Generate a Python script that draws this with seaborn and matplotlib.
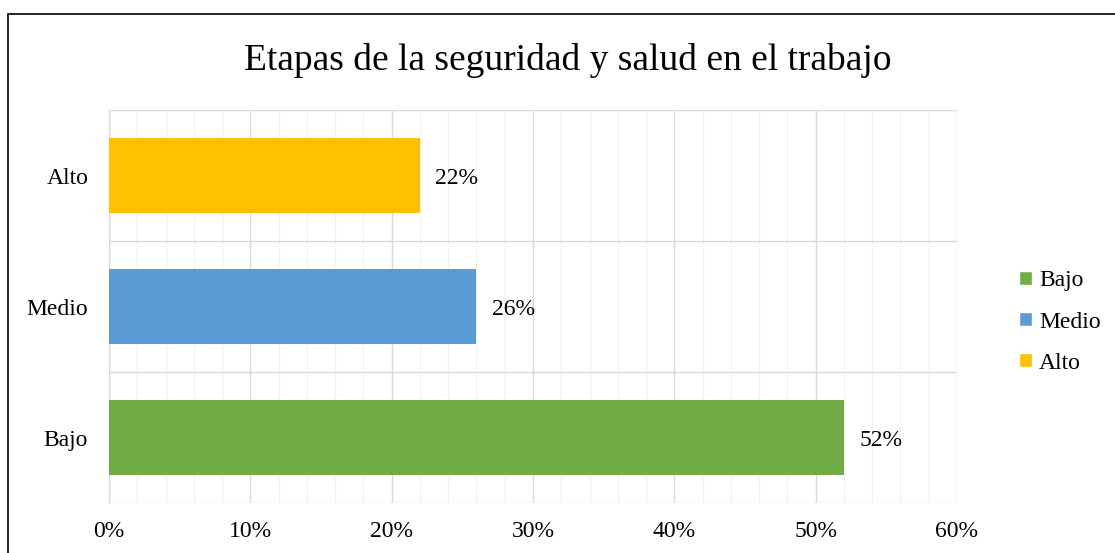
import pandas as pd
import seaborn as sns
import matplotlib.pyplot as plt
from matplotlib.ticker import MultipleLocator, PercentFormatter
from matplotlib.patches import Rectangle, Patch

# chart data
categories = ["Alto", "Medio", "Bajo"]
values = [22, 26, 52]
colors = {"Bajo": "#70AD47", "Medio": "#5B9BD5", "Alto": "#FFC000"}
legend_order = ["Bajo", "Medio", "Alto"]
title = "Etapas de la seguridad y salud en el trabajo"

df = pd.DataFrame({"nivel": categories, "pct": values})

sns.set_style("white")
plt.rcParams["font.family"] = ["Liberation Serif", "DejaVu Serif"]
plt.rcParams["text.color"] = "black"

fig = plt.figure(figsize=(11.15, 5.53), dpi=100)
ax = fig.add_axes([109 / 1115, 1 - 503 / 553, (957 - 109) / 1115, (503 - 110) / 553])

sns.barplot(data=df, y="nivel", x="pct", hue="nivel", order=categories,
            palette=colors, dodge=False, width=0.57, legend=False, ax=ax,
            saturation=1, linewidth=0, zorder=3)

ax.set_xlim(0, 60)
ax.set_ylim(2.5, -0.5)
ax.xaxis.set_major_locator(MultipleLocator(10))
ax.xaxis.set_minor_locator(MultipleLocator(2))
ax.xaxis.set_major_formatter(PercentFormatter(decimals=0))
ax.grid(which="minor", axis="x", color="#F2F2F2", lw=1, zorder=0)
ax.grid(which="major", axis="x", color="#D9D9D9", lw=1, zorder=1)
for yb in [-0.5, 0.5, 1.5, 2.5]:
    ax.axhline(yb, color="#D9D9D9", lw=1, zorder=1)
for s in ax.spines.values():
    s.set_visible(False)
ax.axvline(0, color="#D9D9D9", lw=1, zorder=1)
ax.tick_params(axis="both", length=0, labelsize=17, colors="black")
ax.tick_params(axis="x", pad=13)
ax.tick_params(axis="y", pad=15)
ax.set_xlabel("")
ax.set_ylabel("")

for i, v in enumerate(values):
    ax.text(v + 1.1, i, f"{v}%", va="center_baseline", ha="left", fontsize=17)

fig.text(568 / 1115, 1 - 60 / 553, title, ha="center", va="center", fontsize=27)

handles = [Patch(facecolor=colors[c], label=c) for c in legend_order]
fig.legend(handles=handles, loc="center left", bbox_to_anchor=(1019 / 1115, 1 - 322 / 553),
           frameon=False, fontsize=17, handlelength=0.55, handleheight=0.55,
           handletextpad=0.3, labelspacing=0.85, borderaxespad=0, borderpad=0)

fig.patches.append(Rectangle((8 / 1115, -0.1), 1.2, 1 - 14 / 553 + 0.1, transform=fig.transFigure,
                             fill=False, edgecolor="black", lw=1.2))

fig.savefig("out.png", dpi=100)
